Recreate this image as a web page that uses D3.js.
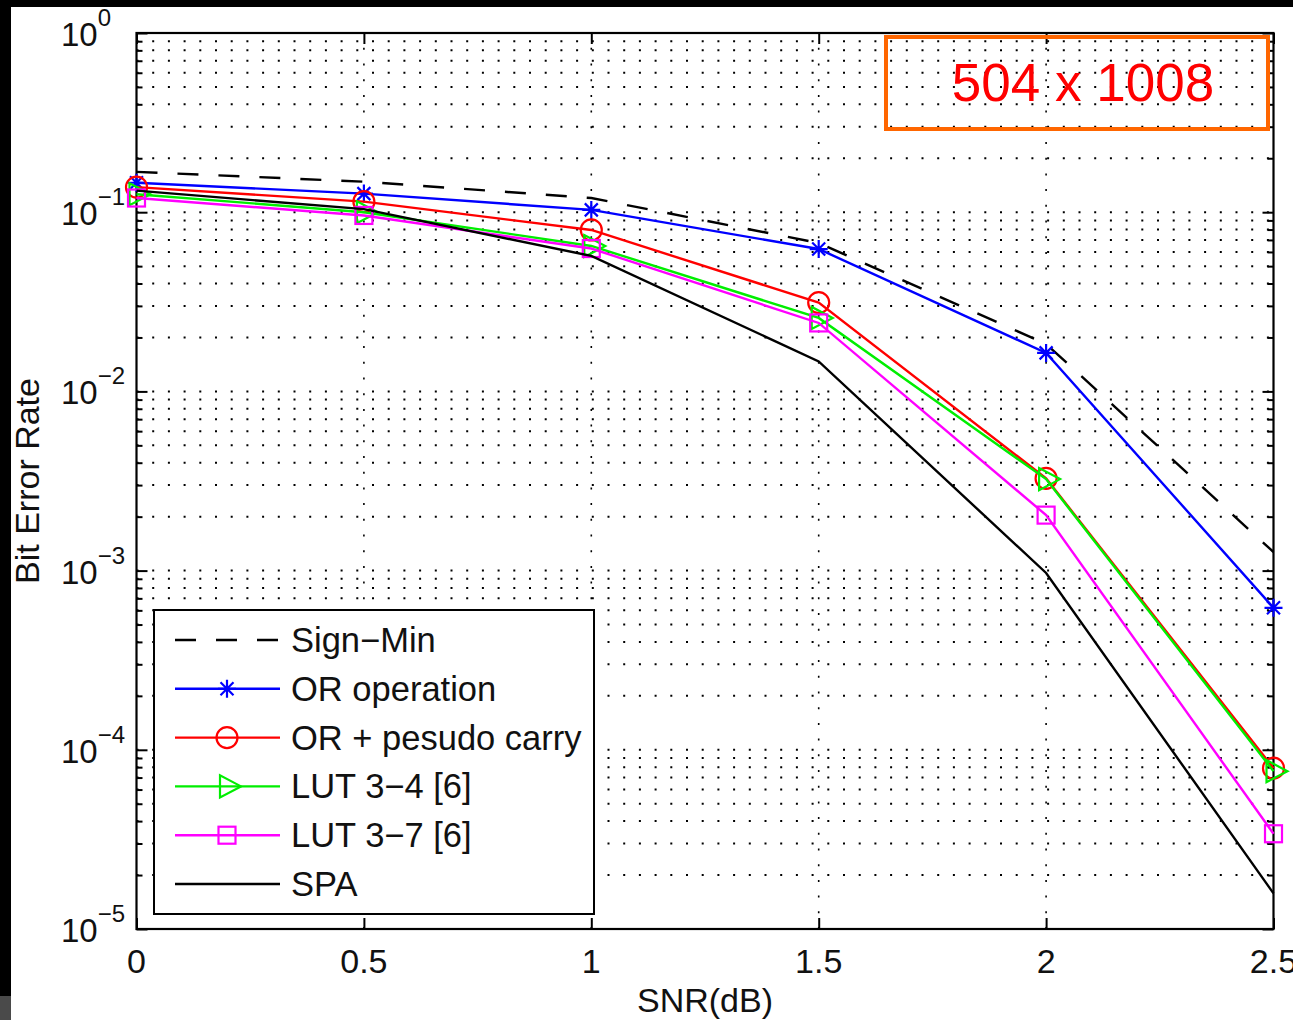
<!DOCTYPE html>
<html>
<head>
<meta charset="utf-8">
<script src="https://cdn.jsdelivr.net/npm/d3@7"></script>
<style>
  html, body { margin: 0; padding: 0; background: #fff; }
  svg { display: block; }
  text { font-family: "Liberation Sans", Arial, Helvetica, sans-serif; }
</style>
</head>
<body>
<svg id="chart" width="1293" height="1020"></svg>
<script>
// ===== DATA =====
const snr = [0, 0.5, 1, 1.5, 2, 2.5];
const signMin = [0.168, 0.148, 0.120, 0.0673, 0.0184, 0.00127];
const orOp = [0.146, 0.127, 0.103, 0.0623, 0.0164, 0.00062];
const orCarry = [0.138, 0.1145, 0.0796, 0.0313, 0.00327, 7.9e-5];
const lut34 = [0.126, 0.100, 0.0648, 0.0257, 0.00324, 7.6e-5];
const lut37 = [0.120, 0.0959, 0.0627, 0.0241, 0.00204, 3.4e-5];
const spa = [0.132, 0.104, 0.057, 0.0147, 0.00097, 1.58e-5];

const seriesNames = ['Sign\u2212Min', 'OR operation', 'OR + pesudo carry', 'LUT 3\u22124 [6]', 'LUT 3\u22127 [6]', 'SPA'];
const xTicks = [0, 0.5, 1, 1.5, 2, 2.5];
const xTickLabels = ['0', '0.5', '1', '1.5', '2', '2.5'];
const yExponents = [0, -1, -2, -3, -4, -5];

const series = [
    { name: seriesNames[0], values: signMin, color: '#000', dash: '21,20', marker: null },
    { name: seriesNames[1], values: orOp, color: '#0000ff', dash: null, marker: 'star' },
    { name: seriesNames[2], values: orCarry, color: '#ff0000', dash: null, marker: 'circle' },
    { name: seriesNames[3], values: lut34, color: '#00ee00', dash: null, marker: 'triangle' },
    { name: seriesNames[4], values: lut37, color: '#ff00ff', dash: null, marker: 'square' },
    { name: seriesNames[5], values: spa, color: '#000', dash: null, marker: null }
];

// ===== LAYOUT =====
const plotL = 136.5, plotR = 1273.5, plotT = 33, plotB = 929;
const svg = d3.select('#chart');

const x = d3.scaleLinear().domain([0, 2.5]).range([plotL, plotR]);
const y = d3.scaleLog().domain([1e-5, 1]).range([plotB, plotT]);

// slide border bits around the picture
svg.append('rect').attr('x', 0).attr('y', 0).attr('width', 1293).attr('height', 7).attr('fill', '#000');
svg.append('rect').attr('x', 0).attr('y', 0).attr('width', 11).attr('height', 1020).attr('fill', '#000');
svg.append('rect').attr('x', 0).attr('y', 996).attr('width', 11).attr('height', 24).attr('fill', '#4a4a4a');

// minor + major log values
const logVals = [];
for (let d = -5; d < 0; d++) {
    for (let m = 1; m <= 9; m++) logVals.push(m * Math.pow(10, d));
}
logVals.push(1);
const majorVals = yExponents.map(e => Math.pow(10, e));

// ===== GRID =====
const grid = svg.append('g');
logVals.forEach(v => {
    grid.append('line')
        .attr('x1', plotL).attr('x2', plotR)
        .attr('y1', y(v)).attr('y2', y(v))
        .attr('stroke', '#000').attr('stroke-width', 2)
        .attr('stroke-dasharray', '2,13.7');
});
xTicks.slice(1, -1).forEach(t => {
    grid.append('line')
        .attr('x1', x(t)).attr('x2', x(t))
        .attr('y1', plotB).attr('y2', plotT)
        .attr('stroke', '#000').attr('stroke-width', 1.6)
        .attr('stroke-dasharray', '2,13.7');
});

// ===== AXES (inward ticks on all four sides) =====
const minorVals = logVals.filter(v => !majorVals.some(mv => Math.abs(mv - v) / mv < 1e-9));
function yAxes(vals, len) {
    svg.append('g').attr('transform', `translate(${plotL},0)`)
        .call(d3.axisLeft(y).tickValues(vals).tickSize(-len).tickFormat('').tickSizeOuter(0))
        .call(g => g.select('.domain').remove())
        .selectAll('line').attr('stroke', '#000').attr('stroke-width', 2);
    svg.append('g').attr('transform', `translate(${plotR},0)`)
        .call(d3.axisRight(y).tickValues(vals).tickSize(-len).tickFormat('').tickSizeOuter(0))
        .call(g => g.select('.domain').remove())
        .selectAll('line').attr('stroke', '#000').attr('stroke-width', 2);
}
yAxes(majorVals, 11);
yAxes(minorVals, 6);

svg.append('g').attr('transform', `translate(0,${plotB})`)
    .call(d3.axisBottom(x).tickValues(xTicks).tickSize(-11).tickFormat('').tickSizeOuter(0))
    .call(g => g.select('.domain').remove())
    .selectAll('line').attr('stroke', '#000').attr('stroke-width', 2);
svg.append('g').attr('transform', `translate(0,${plotT})`)
    .call(d3.axisTop(x).tickValues(xTicks).tickSize(-11).tickFormat('').tickSizeOuter(0))
    .call(g => g.select('.domain').remove())
    .selectAll('line').attr('stroke', '#000').attr('stroke-width', 2);

svg.append('rect')
    .attr('x', plotL).attr('y', plotT)
    .attr('width', plotR - plotL).attr('height', plotB - plotT)
    .attr('fill', 'none').attr('stroke', '#000').attr('stroke-width', 2.2);

// tick labels (the last one runs off the right edge, as in the source)
xTicks.forEach((t, i) => {
    svg.append('text')
        .attr('x', x(t)).attr('y', 973)
        .attr('text-anchor', 'middle')
        .attr('font-size', 34).attr('fill', '#111')
        .text(xTickLabels[i]);
});
yExponents.forEach(e => {
    const yy = y(Math.pow(10, e));
    const t = svg.append('text')
        .attr('x', 61).attr('y', yy + 13)
        .attr('font-size', 33).attr('fill', '#111');
    t.append('tspan').text('10');
    t.append('tspan').attr('dy', -20).attr('font-size', 24)
        .text(e === 0 ? '0' : '\u2212' + Math.abs(e));
});

// axis titles
svg.append('text')
    .attr('x', (plotL + plotR) / 2).attr('y', 1012)
    .attr('text-anchor', 'middle').attr('font-size', 34).attr('fill', '#111')
    .text('SNR(dB)');
svg.append('text')
    .attr('transform', `translate(39,${(plotT + plotB) / 2}) rotate(-90)`)
    .attr('text-anchor', 'middle').attr('font-size', 34).attr('fill', '#111')
    .text('Bit Error Rate');

// ===== MARKERS =====
function drawMarker(g, type, cx, cy, color) {
    const m = g.append('g').attr('transform', `translate(${cx},${cy})`)
        .attr('fill', 'none').attr('stroke', color).attr('stroke-width', 2.2);
    if (type === 'star') {
        m.append('path').attr('d', 'M-9,0H9M0,-9V9M-6.5,-6.5L6.5,6.5M-6.5,6.5L6.5,-6.5');
    } else if (type === 'circle') {
        m.append('circle').attr('r', 10.5);
    } else if (type === 'triangle') {
        m.append('path').attr('d', 'M-7,-11L-7,11L14,0Z');
    } else if (type === 'square') {
        m.append('rect').attr('x', -8.5).attr('y', -8.5).attr('width', 17).attr('height', 17);
    }
}

// ===== LINES =====
const line = d3.line().x(d => x(d[0])).y(d => y(d[1]));
const plot = svg.append('g');
series.forEach(s => {
    const pts = snr.map((v, i) => [v, s.values[i]]);
    plot.append('path')
        .datum(pts)
        .attr('d', line)
        .attr('fill', 'none')
        .attr('stroke', s.color)
        .attr('stroke-width', 2.4)
        .attr('stroke-dasharray', s.dash);
    if (s.marker) {
        pts.forEach(p => drawMarker(plot, s.marker, x(p[0]), y(p[1]), s.color));
    }
});

// ===== LEGEND =====
const lg = svg.append('g');
lg.append('rect')
    .attr('x', 154).attr('y', 610).attr('width', 440).attr('height', 304)
    .attr('fill', '#fff').attr('stroke', '#000').attr('stroke-width', 2);
series.forEach((s, i) => {
    const ry = 640 + i * 48.8;
    lg.append('line')
        .attr('x1', 175).attr('x2', 280).attr('y1', ry).attr('y2', ry)
        .attr('stroke', s.color).attr('stroke-width', 2.4)
        .attr('stroke-dasharray', s.dash);
    if (s.marker) drawMarker(lg, s.marker, 227, ry, s.color);
    lg.append('text')
        .attr('x', 291).attr('y', ry + 12)
        .attr('font-size', 34.5).attr('fill', '#111')
        .text(s.name);
});

// ===== ANNOTATION =====
svg.append('rect')
    .attr('x', 886).attr('y', 37).attr('width', 382).attr('height', 92)
    .attr('fill', 'none').attr('stroke', '#ff6600').attr('stroke-width', 4);
svg.append('text')
    .attr('x', 1083).attr('y', 101)
    .attr('text-anchor', 'middle').attr('font-size', 53).attr('fill', '#ff0000')
    .text('504 x 1008');
</script>
</body>
</html>
